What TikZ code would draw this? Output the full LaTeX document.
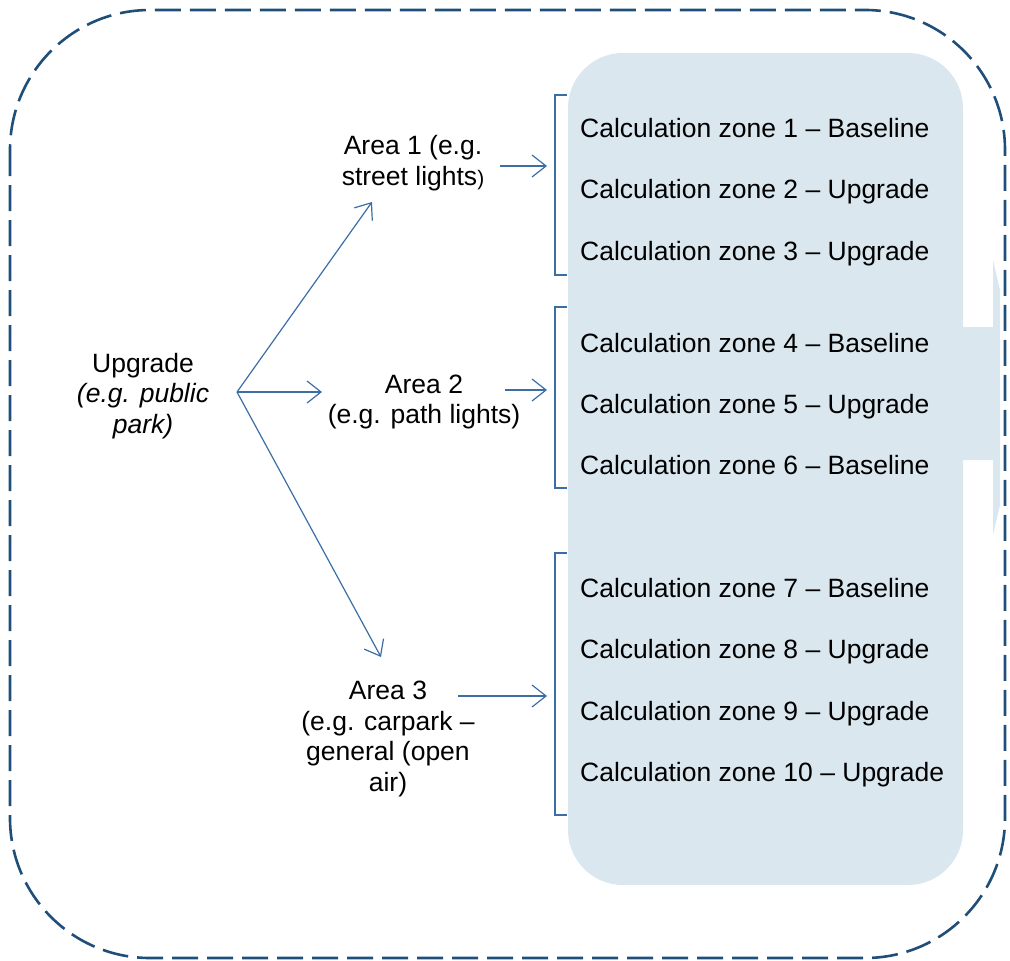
\documentclass[tikz,border=0pt]{standalone}
\usepackage{fontspec}
\setmainfont{Liberation Sans}
\usetikzlibrary{arrows.meta}
\definecolor{borderblue}{HTML}{1F4E79}
\definecolor{linkblue}{HTML}{3A6EA5}
\definecolor{zonefill}{HTML}{DAE7EF}
\tikzset{
  txt/.style={font=\fontsize{26.5}{30.5}\selectfont, inner sep=0pt, align=center, text=black},
  zone/.style={font=\fontsize{26.5}{30.5}\selectfont, inner sep=0pt, anchor=base west, text=black},
  link/.style={draw=linkblue, line width=1.2pt, -{Straight Barb[length=14pt,width=22pt,line width=1.2pt]}},
  brk/.style={draw=linkblue, line width=1.3pt},
  outer/.style={draw=borderblue, line width=2.6pt, dash pattern=on 26pt off 9pt, rounded corners=140pt},
}
\begin{document}
\begin{tikzpicture}[x=1pt,y=-1pt]
\useasboundingbox (0,0) rectangle (1010,961);
% partial block arrow at right
\begin{scope}
\clip (0,0) rectangle (1000,961);
\fill[zonefill] (940,327) -- (993,327) -- (993,260) -- (1025,397) -- (993,535) -- (993,460) -- (940,460) -- cycle;
\end{scope}
% zone panel
\fill[zonefill, rounded corners=55pt] (568,53) rectangle (963,885);
% dashed border
\draw[outer] (10,10) rectangle (1005,958);
% brackets
\draw[brk] (567,95) -- (555,95) -- (555,275) -- (567,275);
\draw[brk] (567,307) -- (555,307) -- (555,488) -- (567,488);
\draw[brk] (567,553) -- (555,553) -- (555,815) -- (567,815);
% zone texts
\node[zone] (z1) at (580,137) {Calculation zone 1 – Baseline};
\node[zone] (z2) at (580,198) {Calculation zone 2 – Upgrade};
\node[zone] (z3) at (580,260) {Calculation zone 3 – Upgrade};
\node[zone] (z4) at (580,352) {Calculation zone 4 – Baseline};
\node[zone] (z5) at (580,413) {Calculation zone 5 – Upgrade};
\node[zone] (z6) at (580,474) {Calculation zone 6 – Baseline};
\node[zone] (z7) at (580,597) {Calculation zone 7 – Baseline};
\node[zone] (z8) at (580,658) {Calculation zone 8 – Upgrade};
\node[zone] (z9) at (580,720) {Calculation zone 9 – Upgrade};
\node[zone] (z10) at (580,781) {Calculation zone 10 – Upgrade};
% left texts
\node[txt] (up) at (143,396) {Upgrade\\\itshape (e.g. public\\\itshape park)};
\node[txt] (a1) at (413,163) {Area 1 (e.g.\\street lights{\fontsize{21}{25}\selectfont)}};
\node[txt] (a2) at (424,402) {Area 2\\(e.g. path lights)};
\node[txt] (a3) at (388,739) {Area 3\\(e.g. carpark –\\general (open\\air)};
% connector points
\coordinate (src) at (237,392);
\coordinate (t1) at (372,202);
\coordinate (t2) at (322,392);
\coordinate (t3) at (381,657);
\coordinate (s1) at (500,166);
\coordinate (e1) at (547,166);
\coordinate (s2) at (505,390);
\coordinate (e2) at (547,390);
\coordinate (s3) at (458,696);
\coordinate (e3) at (547,696);
\draw[link] (src) -- (t1);
\draw[link] (src) -- (t2);
\draw[link] (src) -- (t3);
\draw[link] (s1) -- (e1);
\draw[link] (s2) -- (e2);
\draw[link] (s3) -- (e3);
\end{tikzpicture}
\end{document}
